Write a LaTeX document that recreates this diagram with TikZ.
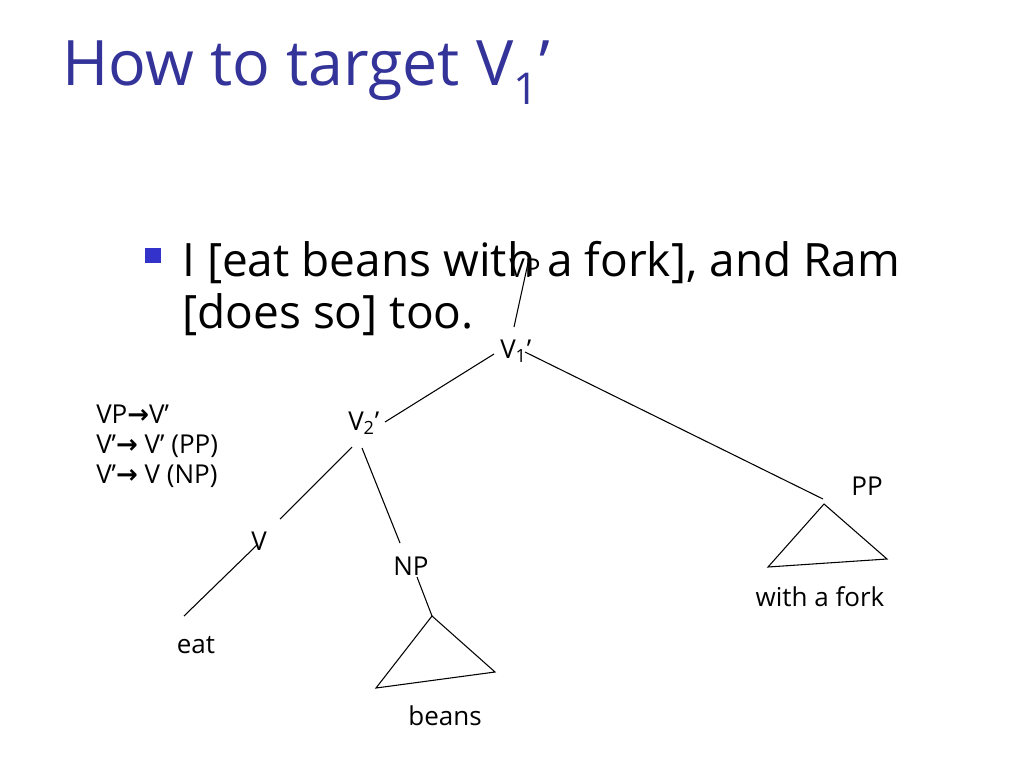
\documentclass[tikz,border=0pt]{standalone}
\usepackage{fontspec}
\setmainfont{Open Sans}
\newfontfamily\arrowfont{DejaVu Sans}
\definecolor{titleblue}{RGB}{51,51,153}
\definecolor{bulletblue}{RGB}{51,51,204}
\begin{document}
\begin{tikzpicture}[x=0.75pt,y=-0.75pt,
  lbl/.style={inner sep=0pt,anchor=base,font=\fontsize{19.5}{23}\selectfont},
  lbll/.style={inner sep=0pt,anchor=base west,font=\fontsize{19.5}{23}\selectfont},
  edge/.style={draw=black,line width=0.8pt}]
\useasboundingbox (0,0) rectangle (1024,768);
\fill[white] (0,0) rectangle (1024,768);
% title
\node[inner sep=0pt,anchor=base west,text=titleblue,font=\fontsize{47}{52}\selectfont] (title) at (62,85) {How to target V\textsubscript{1}’};
% bullet
\fill[bulletblue] (145,248) rectangle (161,263);
\node[inner sep=0pt,anchor=base west,font=\fontsize{34.5}{39}\selectfont] (b1) at (182,276) {I [eat beans with a fork], and Ram};
\node[inner sep=0pt,anchor=base west,font=\fontsize{34.5}{39}\selectfont] (b2) at (182,328) {[does so] too.};
% rules
\node[lbll] (r1) at (96,423) {VP{\arrowfont\bfseries →}V’};
\node[lbll] (r2) at (96,453) {V’{\arrowfont\bfseries →} V’ (PP)};
\node[lbll] (r3) at (96,483) {V’{\arrowfont\bfseries →} V (NP)};
% tree labels
\node[lbl] (vp) at (525,277) {VP};
\node[lbll] (v1) at (500,358) {V\textsubscript{1}’};
\node[lbll] (v2) at (348,430) {V\textsubscript{2}’};
\node[lbl] (v) at (259,550) {V};
\node[lbl] (np) at (411,575) {NP};
\node[lbl] (pp) at (867,495) {PP};
\node[lbl] (eat) at (196,653) {eat};
\node[lbl] (beans) at (445,725) {beans};
\node[lbl] (fork) at (820,606) {with a fork};
% connector end points
\coordinate (vpB) at (528,263);
\coordinate (v1T) at (514,327);
\coordinate (v1L) at (494,354);
\coordinate (v2T) at (385,422);
\coordinate (v1R) at (525,352);
\coordinate (ppT) at (823,499);
\coordinate (v2L) at (352,447);
\coordinate (vT) at (280,519);
\coordinate (vB) at (257,545);
\coordinate (eatT) at (184,616);
\coordinate (v2R) at (362,448);
\coordinate (npT) at (400,543);
\coordinate (npB) at (417,577);
\coordinate (t1a) at (432,616);
\coordinate (t1l) at (376,688);
\coordinate (t1r) at (495,672);
\coordinate (t2a) at (824,504);
\coordinate (t2l) at (768,567);
\coordinate (t2r) at (887,559);
% connectors
\draw[edge] (vpB) -- (v1T);
\draw[edge] (v1L) -- (v2T);
\draw[edge] (v1R) -- (ppT);
\draw[edge] (v2L) -- (vT);
\draw[edge] (vB) -- (eatT);
\draw[edge] (v2R) -- (npT);
\draw[edge] (npB) -- (t1a);
\draw[edge] (t1a) -- (t1l) -- (t1r) -- cycle;
\draw[edge] (t2a) -- (t2l) -- (t2r) -- cycle;
\end{tikzpicture}
\end{document}
